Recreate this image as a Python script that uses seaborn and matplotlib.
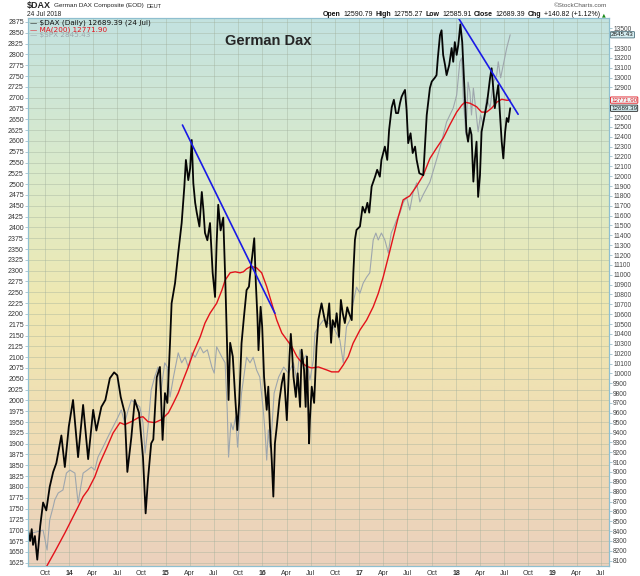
import matplotlib
matplotlib.use("Agg")
import matplotlib.pyplot as plt
from matplotlib.colors import LinearSegmentedColormap
import numpy as np
import pandas as pd
import seaborn as sns

# ---- values ----
dax_dates = [
    "2013-07-30", "2013-08-07", "2013-08-13", "2013-08-18", "2013-08-25", "2013-09-03", "2013-09-14",
    "2013-09-25", "2013-10-07", "2013-10-20", "2013-11-02", "2013-11-14", "2013-12-03", "2013-12-16",
    "2013-12-31", "2014-01-16", "2014-02-04", "2014-02-23", "2014-03-14", "2014-04-02", "2014-04-14",
    "2014-05-03", "2014-05-18", "2014-06-04", "2014-06-20", "2014-07-02", "2014-07-15", "2014-07-30",
    "2014-08-09", "2014-08-24", "2014-09-06", "2014-09-22", "2014-10-07", "2014-10-17", "2014-10-26",
    "2014-11-07", "2014-11-15", "2014-11-28", "2014-12-10", "2014-12-20", "2014-12-29", "2015-01-07",
    "2015-01-17", "2015-01-23", "2015-02-05", "2015-02-17", "2015-03-02", "2015-03-12", "2015-03-18",
    "2015-03-27", "2015-04-03", "2015-04-09", "2015-04-15", "2015-04-22", "2015-04-28", "2015-05-08",
    "2015-05-17", "2015-05-23", "2015-05-29", "2015-06-07", "2015-06-17", "2015-06-27", "2015-07-06",
    "2015-07-12", "2015-07-18", "2015-07-27", "2015-08-06", "2015-08-14", "2015-08-21", "2015-08-26",
    "2015-09-01", "2015-09-11", "2015-09-20", "2015-09-28", "2015-10-05", "2015-10-14", "2015-10-23",
    "2015-11-02", "2015-11-11", "2015-11-18", "2015-11-23", "2015-12-01", "2015-12-07", "2015-12-13",
    "2015-12-17", "2015-12-25", "2015-12-31", "2016-01-07", "2016-01-17", "2016-01-23", "2016-01-29",
    "2016-02-05", "2016-02-11", "2016-02-17", "2016-02-24", "2016-03-05", "2016-03-14", "2016-03-22",
    "2016-04-02", "2016-04-12", "2016-04-17", "2016-04-22", "2016-04-27", "2016-05-06", "2016-05-13",
    "2016-05-22", "2016-05-28", "2016-06-06", "2016-06-12", "2016-06-17", "2016-06-25", "2016-06-28",
    "2016-07-05", "2016-07-14", "2016-07-23", "2016-07-30", "2016-08-11", "2016-08-21", "2016-08-30",
    "2016-09-09", "2016-09-16", "2016-09-22", "2016-10-01", "2016-10-07", "2016-10-16", "2016-10-23",
    "2016-10-30", "2016-11-07", "2016-11-16", "2016-11-23", "2016-12-03", "2016-12-09", "2016-12-15",
    "2016-12-21", "2017-01-03", "2017-01-13", "2017-01-22", "2017-01-31", "2017-02-07", "2017-02-16",
    "2017-03-01", "2017-03-09", "2017-03-19", "2017-03-25", "2017-04-07", "2017-04-16", "2017-04-23",
    "2017-05-03", "2017-05-11", "2017-05-19", "2017-05-27", "2017-06-03", "2017-06-09", "2017-06-15",
    "2017-06-22", "2017-06-28", "2017-07-04", "2017-07-13", "2017-07-21", "2017-07-30", "2017-08-05",
    "2017-08-15", "2017-08-30", "2017-09-12", "2017-09-24", "2017-10-01", "2017-10-13", "2017-10-19",
    "2017-10-24", "2017-11-01", "2017-11-07", "2017-11-13", "2017-11-20", "2017-11-26", "2017-12-06",
    "2017-12-15", "2017-12-21", "2017-12-27", "2018-01-03", "2018-01-09", "2018-01-17", "2018-01-24",
    "2018-01-28", "2018-02-03", "2018-02-09", "2018-02-15", "2018-02-22", "2018-02-28", "2018-03-07",
    "2018-03-13", "2018-03-19", "2018-03-25", "2018-04-01", "2018-04-07", "2018-04-19", "2018-04-28",
    "2018-05-09", "2018-05-15", "2018-05-21", "2018-05-27", "2018-06-03", "2018-06-09", "2018-06-15",
    "2018-06-22", "2018-06-28", "2018-07-05", "2018-07-11", "2018-07-17", "2018-07-24",
]
dax_close = [
    8410, 8300, 8420, 8260, 8350, 8110, 8450,
    8690, 8610, 8850, 9000, 9090, 9370, 9050,
    9460, 9730, 9150, 9680, 9130, 9630, 9420,
    9660, 9730, 9950, 10010, 9980, 9760, 9600,
    9000, 9350, 9730, 9600, 9150, 8580, 8930,
    9290, 9330, 9960, 10065, 9325, 9800, 9700,
    10305, 10710, 10915, 11220, 11525, 11890, 12165,
    11960, 12080, 12367, 11930, 11730, 11630, 11490,
    11840, 11660, 11425, 11350, 11525, 11020, 10775,
    11320, 11710, 11450, 11580, 10915, 10235, 9730,
    10310, 10170, 9760, 9425, 9700, 10305, 10570,
    10845, 10880, 11080, 11180, 11370, 10915, 10570,
    10235, 10675, 10470, 9965, 9630, 9865, 9460,
    9120, 8750, 9290, 9460, 9730, 9900, 10000,
    9525, 10170, 10400, 10210, 9965, 9760, 10000,
    9660, 10240, 10035, 9660, 10170, 9290, 9525,
    9865, 9700, 10270, 10545, 10710, 10570, 10470,
    10710, 10310, 10540, 10470, 10610, 10370, 10745,
    10610, 10510, 10670, 10610, 10540, 11020, 11355,
    11455, 11490, 11690, 11630, 11730, 11630, 11895,
    11995, 12065, 11995, 12165, 12300, 12165, 12470,
    12700, 12775, 12640, 12640, 12740, 12805, 12840,
    12875, 12670, 12335, 12435, 12235, 12300, 12165,
    12030, 12010, 12620, 12895, 12960, 13000, 13025,
    13200, 13430, 13480, 13230, 13130, 13025, 13130,
    13300, 13160, 13360, 13230, 13330, 13540, 13360,
    13130, 12790, 12450, 12350, 12490, 12420, 11945,
    12180, 12350, 11790, 12010, 12450, 12620, 12750,
    12995, 13095, 12895, 12690, 12825, 12925, 12650,
    12350, 12180, 12450, 12590, 12550, 12689.39,
]

ma_dates = [
    "2013-07-30", "2013-10-07", "2013-11-08", "2013-12-16", "2014-02-04", "2014-02-23", "2014-03-14",
    "2014-04-08", "2014-04-27", "2014-05-23", "2014-06-16", "2014-07-12", "2014-07-30", "2014-08-24",
    "2014-09-19", "2014-10-07", "2014-10-26", "2014-11-20", "2014-12-15", "2015-01-11", "2015-01-30",
    "2015-02-17", "2015-03-08", "2015-03-27", "2015-04-15", "2015-05-11", "2015-05-29", "2015-06-17",
    "2015-07-12", "2015-08-01", "2015-08-13", "2015-09-01", "2015-09-20", "2015-10-08", "2015-10-21",
    "2015-11-02", "2015-11-15", "2015-11-27", "2015-12-10", "2015-12-29", "2016-01-17", "2016-02-05",
    "2016-02-24", "2016-03-14", "2016-04-02", "2016-04-21", "2016-05-10", "2016-05-28", "2016-06-16",
    "2016-07-05", "2016-07-30", "2016-08-30", "2016-09-18", "2016-10-14", "2016-11-01", "2016-11-20",
    "2016-12-08", "2017-01-03", "2017-01-28", "2017-02-22", "2017-03-13", "2017-04-01", "2017-04-20",
    "2017-05-09", "2017-05-28", "2017-06-15", "2017-07-10", "2017-08-05", "2017-08-30", "2017-09-24",
    "2017-10-19", "2017-11-13", "2017-12-08", "2018-01-03", "2018-01-22", "2018-02-03", "2018-02-22",
    "2018-03-19", "2018-04-07", "2018-04-26", "2018-05-15", "2018-06-03", "2018-06-22", "2018-07-11",
    "2018-07-24",
]
ma_values = [
    7750, 8036, 8190, 8380, 8645, 8750, 8820,
    8950, 9090, 9245, 9395, 9500, 9480, 9510,
    9550, 9560, 9510, 9500, 9530, 9600, 9700,
    9800, 9935, 10065, 10210, 10370, 10510, 10610,
    10710, 10845, 10945, 11020, 11030, 11020, 11030,
    11060, 11080, 11080, 11070, 11020, 10880, 10710,
    10540, 10410, 10340, 10270, 10170, 10110, 10070,
    10055, 10065, 10035, 10015, 10015, 10085, 10170,
    10305, 10440, 10540, 10675, 10810, 10980, 11180,
    11385, 11590, 11760, 11800, 11900, 12010, 12180,
    12285, 12385, 12520, 12650, 12720, 12750, 12740,
    12705, 12650, 12650, 12690, 12750, 12780, 12770,
    12771.90,
]

spx_dates = [
    "2013-07-30", "2013-09-25", "2013-10-10", "2013-10-20", "2013-11-02", "2013-11-08", "2013-11-21",
    "2013-12-09", "2013-12-22", "2014-01-04", "2014-01-23", "2014-02-04", "2014-02-23", "2014-03-11",
    "2014-03-26", "2014-04-08", "2014-04-20", "2014-05-09", "2014-05-28", "2014-06-16", "2014-07-05",
    "2014-07-17", "2014-07-30", "2014-08-12", "2014-08-24", "2014-09-08", "2014-09-25", "2014-10-07",
    "2014-10-15", "2014-10-26", "2014-11-07", "2014-11-20", "2014-12-03", "2014-12-13", "2014-12-28",
    "2015-01-07", "2015-01-17", "2015-01-30", "2015-02-17", "2015-03-02", "2015-03-15", "2015-03-27",
    "2015-04-09", "2015-04-22", "2015-05-11", "2015-05-23", "2015-06-07", "2015-06-24", "2015-07-03",
    "2015-07-12", "2015-08-01", "2015-08-13", "2015-08-21", "2015-08-26", "2015-09-04", "2015-09-12",
    "2015-09-22", "2015-09-29", "2015-10-14", "2015-11-02", "2015-11-15", "2015-11-27", "2015-12-10",
    "2015-12-22", "2016-01-04", "2016-01-11", "2016-01-17", "2016-01-23", "2016-01-29", "2016-02-05",
    "2016-02-14", "2016-03-02", "2016-03-21", "2016-04-08", "2016-04-27", "2016-05-10", "2016-05-21",
    "2016-06-02", "2016-06-14", "2016-06-28", "2016-07-11", "2016-07-17", "2016-07-30", "2016-08-18",
    "2016-09-05", "2016-09-24", "2016-10-19", "2016-11-01", "2016-11-13", "2016-11-26", "2016-12-08",
    "2016-12-21", "2017-01-03", "2017-01-15", "2017-01-28", "2017-02-09", "2017-02-22", "2017-03-04",
    "2017-03-13", "2017-03-25", "2017-04-07", "2017-04-20", "2017-05-01", "2017-05-11", "2017-05-21",
    "2017-06-03", "2017-06-15", "2017-06-28", "2017-07-10", "2017-07-22", "2017-08-05", "2017-08-17",
    "2017-08-29", "2017-09-24", "2017-10-13", "2017-11-01", "2017-11-26", "2017-12-21", "2018-01-03",
    "2018-01-15", "2018-01-22", "2018-01-28", "2018-02-07", "2018-02-15", "2018-02-22", "2018-02-28",
    "2018-03-07", "2018-03-13", "2018-03-25", "2018-04-03", "2018-04-13", "2018-04-26", "2018-05-09",
    "2018-05-21", "2018-06-03", "2018-06-09", "2018-06-18", "2018-06-28", "2018-07-11", "2018-07-24",
]
spx_close = [
    1691, 1700, 1654, 1724, 1754, 1770, 1786,
    1793, 1832, 1839, 1832, 1763, 1832, 1839,
    1846, 1839, 1869, 1892, 1916, 1939, 1962,
    1978, 1948, 1978, 2001, 1994, 1985, 1948,
    1878, 1939, 2024, 2054, 2077, 2017, 2087,
    2077, 2008, 2054, 2110, 2087, 2100, 2077,
    2110, 2100, 2124, 2110, 2117, 2077, 2063,
    2124, 2100, 2087, 1978, 1869, 1948, 1932,
    1962, 1892, 2017, 2100, 2087, 2100, 2070,
    2054, 1978, 1925, 1862, 1932, 1892, 1932,
    2017, 2054, 2077, 2063, 2087, 2047, 2117,
    2093, 2105, 2047, 2093, 2156, 2170, 2186,
    2179, 2170, 2140, 2087, 2170, 2186, 2225,
    2262, 2248, 2271, 2285, 2295, 2371, 2387,
    2371, 2387, 2371, 2341, 2387, 2401, 2417,
    2433, 2457, 2470, 2440, 2480, 2503, 2459,
    2475, 2505, 2544, 2584, 2644, 2676, 2706,
    2783, 2792, 2699, 2614, 2736, 2713, 2660,
    2722, 2690, 2621, 2660, 2637, 2699, 2676,
    2736, 2752, 2783, 2746, 2776, 2815, 2845.43,
]

trend1_dates = ["2015-03-05", "2016-02-17"]
trend1_values = [12519, 10609]
trend2_dates = ["2018-01-12", "2018-08-23"]
trend2_values = [13594, 12628]

spx_ticks = list(range(1625, 2876, 25))
dax_ticks = [t for t in range(8100, 13501, 100) if t not in (12700, 12800, 13400)]
quarter_dates = pd.date_range("2013-10-01", "2019-07-01", freq="QS")
quarter_labels = [d.strftime("%y") if d.month == 1 else d.strftime("%b") for d in quarter_dates]

dax = pd.DataFrame({"date": pd.to_datetime(dax_dates), "close": dax_close})
ma = pd.DataFrame({"date": pd.to_datetime(ma_dates), "value": ma_values})
spx = pd.DataFrame({"date": pd.to_datetime(spx_dates), "close": spx_close})

sns.set_style("white")
plt.rcParams["font.family"] = ["Liberation Sans", "DejaVu Sans"]

W, H = 640, 576
fig = plt.figure(figsize=(6.4, 5.76), dpi=100)
rect = [28 / W, 1 - 566 / H, (609 - 28) / W, (566 - 18) / H]

# background gradient panel
bg = fig.add_axes(rect)
bg.set_zorder(0)
grad_cmap = LinearSegmentedColormap.from_list(
    "sc_bg", [(0.0, "#c3e2e0"), (0.3, "#dcebc9"), (0.52, "#efe8b1"),
              (0.78, "#efdcb5"), (1.0, "#ebd1bd")])
bg.imshow(np.linspace(0, 1, 256).reshape(-1, 1), aspect="auto", cmap=grad_cmap,
          extent=[0, 1, 0, 1], origin="upper")
bg.axis("off")

ax = fig.add_axes(rect)
ax.set_zorder(1)
ax.patch.set_visible(False)
ax2 = ax.twinx()
ax2.set_zorder(2)
ax2.patch.set_visible(False)

# SPX on the left scale, DAX and its MA on the right scale
sns.lineplot(data=spx, x="date", y="close", ax=ax, color="#9ea6ad", lw=0.8)
sns.lineplot(data=ma, x="date", y="value", ax=ax2, color="#e3121b", lw=1.0)
sns.lineplot(data=dax, x="date", y="close", ax=ax2, color="#050505", lw=1.3)
sns.lineplot(x=pd.to_datetime(trend1_dates), y=trend1_values, ax=ax2, color="#1a1ae6", lw=1.2)
sns.lineplot(x=pd.to_datetime(trend2_dates), y=trend2_values, ax=ax2, color="#1a1ae6", lw=1.2)

xmin, xmax = pd.Timestamp("2013-07-30"), pd.Timestamp("2019-08-01")
ax.set_xlim(xmin, xmax)
ax.set_ylim(1617.2, 2884.2)
ax2.set_ylim(8046, 13604.5)

ax.set_xticks(quarter_dates)
ax.set_xticklabels(quarter_labels)
for lab in ax.get_xticklabels():
    if lab.get_text().isdigit():
        lab.set_fontweight("bold")
ax.set_yticks(spx_ticks)
ax.set_yticklabels([str(t) for t in spx_ticks])
ax2.set_yticks(dax_ticks)
ax2.set_yticklabels([str(t) for t in dax_ticks])
ax.set_xlabel("")
ax.set_ylabel("")
ax2.set_ylabel("")

ax.grid(True, color="#9fae9a", lw=0.5, alpha=0.55)
ax2.grid(False)
ax.tick_params(axis="both", labelsize=5, length=2, width=0.5, pad=1,
               colors="#8ab4c4", labelcolor="#333333")
ax2.tick_params(axis="y", labelsize=4.8, length=2, width=0.5, pad=1,
                colors="#8ab4c4", labelcolor="#444444")
for a in (ax, ax2):
    for s in a.spines.values():
        s.set_color("#8fbfcf")
        s.set_linewidth(0.8)

# value tags on the right edge
tag_kw = dict(xycoords=("axes fraction", "data"), textcoords="offset points",
              xytext=(1.5, 0), va="center", ha="left", fontsize=4.5, annotation_clip=False)
ax.annotate("2845.43", xy=(1.0, 2845.43), color="#1a1a1a",
            bbox=dict(boxstyle="round,pad=0.1", fc="#d6eef2", ec="#4a6f7a", lw=0.6), **tag_kw)
ax2.annotate("12771.90", xy=(1.0, 12771.90), color="#e3121b",
             bbox=dict(boxstyle="round,pad=0.1", fc="#eef6f6", ec="#e3121b", lw=0.6), **tag_kw)
ax2.annotate("12689.39", xy=(1.0, 12689.39), color="#1a1a1a",
             bbox=dict(boxstyle="round,pad=0.1", fc="#d6eef2", ec="#222222", lw=0.6), **tag_kw)

def px(x, y):
    return x / W, 1 - y / H

renderer = fig.canvas.get_renderer()

def run_of_texts(x0, y0, parts, size, gap):
    # lay pieces out one after another, measuring each one
    x = x0
    for txt, kw in parts:
        t = fig.text(*px(x, y0), txt, fontsize=size, va="center", **kw)
        x += t.get_window_extent(renderer).width + gap
    return x

# in-chart legend
fig.text(*px(30, 23), "\u2014 $DAX (Daily) 12689.39 (24 Jul)", fontsize=5.2, color="#111111",
         va="center", family=["DejaVu Sans"])
fig.text(*px(30, 29.5), "\u2014 MA(200) 12771.90", fontsize=5.2, color="#e3121b",
         va="center", family=["DejaVu Sans"])
fig.text(*px(30, 35.5), "\u2014 $SPX 2845.43", fontsize=5.2, color="#9ea6ad",
         va="center", family=["DejaVu Sans"])

fig.text(*px(268, 41), "German Dax", fontsize=10.5, fontweight="bold", ha="center", va="center")

# header
x_after = run_of_texts(27, 5.5, [("$DAX", dict(fontweight="bold"))], 6.5, 3)
x_after = run_of_texts(x_after, 6, [("German DAX Composite (EOD)", dict(color="#222222"))], 4.6, 2.5)
run_of_texts(x_after, 6, [("DEUT", dict(color="#222222"))], 4, 0)
fig.text(*px(27, 14.5), "24 Jul 2018", fontsize=4.8, va="center", color="#222222")
fig.text(*px(607, 5.5), "\u00a9StockCharts.com", fontsize=4.6, va="center", ha="right", color="#555555")

bold = dict(fontweight="bold", color="#111111")
plain = dict(color="#111111")
header_parts = [
    ("Open", bold), ("12590.79", plain), ("High", bold), ("12755.27", plain),
    ("Low", bold), ("12585.91", plain), ("Close", bold), ("12689.39", plain),
    ("Chg", bold), ("+140.82 (+1.12%)", plain),
]
x_end = run_of_texts(323, 15, header_parts, 5, 2.5)
fig.text(*px(x_end, 15), "\u25b2", fontsize=3.5, va="center", color="#1a8a1a", family=["DejaVu Sans"])

fig.savefig("out.png", dpi=100)
